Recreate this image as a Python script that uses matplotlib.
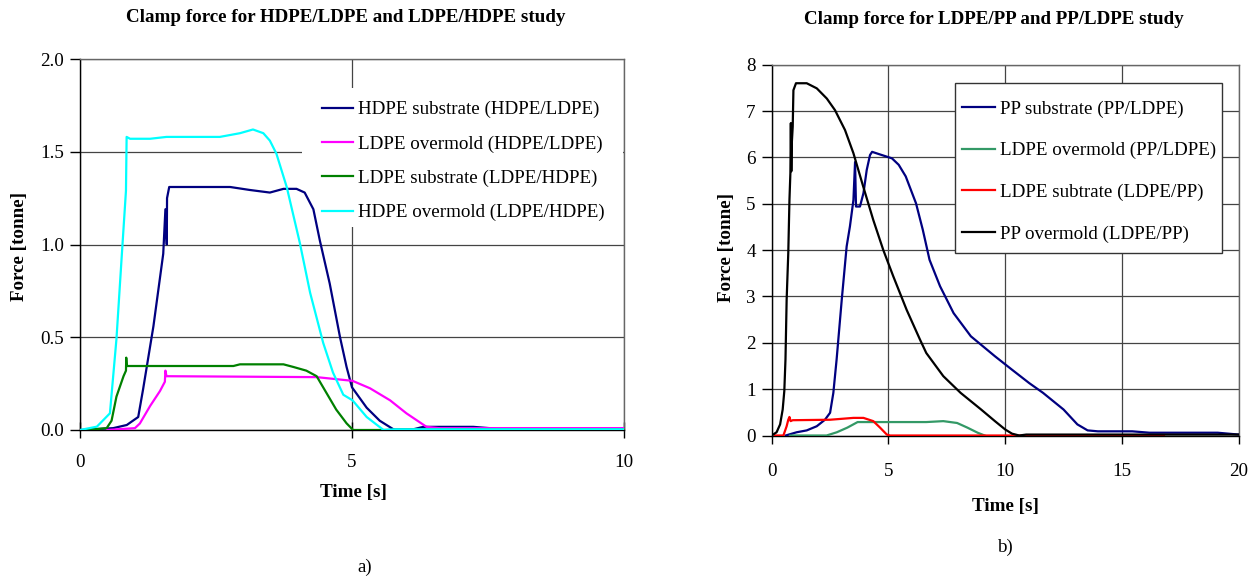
import matplotlib
matplotlib.use("Agg")
import matplotlib.pyplot as plt
from matplotlib.patches import Rectangle
from matplotlib.ticker import FormatStrFormatter

plt.rcParams['font.family'] = ['Liberation Serif', 'DejaVu Serif']

# ---- data: a) HDPE/LDPE and LDPE/HDPE ----
hdpe_sub_t = [0, 0.61, 0.86, 1.07, 1.16, 1.35, 1.53, 1.57, 1.595, 1.60, 1.64, 2.76, 3.12, 3.49,
              3.74, 3.98, 4.13, 4.29, 4.41, 4.59, 4.78, 4.9, 5.0, 5.27, 5.51, 5.76, 6.13, 6.31,
              7.23, 7.66, 10]
hdpe_sub_f = [0, 0.01, 0.027, 0.07, 0.22, 0.56, 0.95, 1.19, 1.0, 1.25, 1.31, 1.31, 1.294, 1.28,
              1.30, 1.30, 1.28, 1.19, 1.02, 0.79, 0.50, 0.34, 0.23, 0.12, 0.05, 0.004, 0.004, 0.017,
              0.017, 0.007, 0.007]

ldpe_over_t = [0.5, 1.01, 1.1, 1.29, 1.47, 1.56, 1.57, 1.59, 4.35, 5.01, 5.33, 5.7, 6.0, 6.37, 6.6, 10]
ldpe_over_f = [0, 0.01, 0.035, 0.13, 0.21, 0.26, 0.32, 0.29, 0.285, 0.265, 0.225, 0.16, 0.09, 0.017,
               0.01, 0.01]

ldpe_sub_t = [0.12, 0.49, 0.58, 0.67, 0.80, 0.845, 0.85, 0.86, 2.82, 2.94, 3.74, 3.92, 4.16, 4.35,
              4.53, 4.71, 4.9, 5.02, 5.6, 6.2, 10]
ldpe_sub_f = [0, 0.01, 0.05, 0.18, 0.29, 0.32, 0.39, 0.345, 0.345, 0.354, 0.354, 0.34, 0.32, 0.29,
              0.20, 0.11, 0.036, 0, 0, 0.004, 0.004]

hdpe_over_t = [0, 0.31, 0.55, 0.67, 0.77, 0.845, 0.857, 0.92, 1.29, 1.59, 2.57, 2.94, 3.18, 3.37,
               3.49, 3.61, 3.80, 4.04, 4.23, 4.47, 4.65, 4.84, 5.01, 5.27, 5.58, 5.8, 10]
hdpe_over_f = [0, 0.018, 0.09, 0.49, 0.95, 1.29, 1.58, 1.57, 1.57, 1.58, 1.58, 1.60, 1.62, 1.60,
               1.56, 1.49, 1.31, 1.01, 0.74, 0.47, 0.31, 0.19, 0.16, 0.07, 0, 0.004, 0.004]

# ---- b) LDPE/PP and PP/LDPE ----
pp_sub_t = [0.6, 1.07, 1.5, 1.93, 2.28, 2.5, 2.64, 2.78, 3.0, 3.21, 3.35, 3.5, 3.57, 3.61, 3.78,
            3.93, 4.07, 4.21, 4.3, 4.6, 5.15, 5.44, 5.74, 6.18, 6.47, 6.76, 7.21, 7.79, 8.53, 9.56,
            10.29, 11.03, 11.62, 12.5, 13.09, 13.53, 13.97, 15.44, 16.18, 19.1, 20]
pp_sub_f = [0, 0.07, 0.11, 0.2, 0.34, 0.49, 0.92, 1.64, 2.93, 4.08, 4.51, 5.08, 5.9, 4.94, 4.94,
            5.23, 5.73, 6.05, 6.12, 6.07, 5.98, 5.84, 5.59, 5.01, 4.44, 3.79, 3.22, 2.64, 2.14, 1.71,
            1.42, 1.13, 0.92, 0.56, 0.24, 0.11, 0.09, 0.09, 0.06, 0.06, 0.02]

ldpe_over2_t = [0.8, 2.35, 2.79, 3.24, 3.68, 4.12, 6.62, 7.35, 7.94, 8.38, 8.82, 9.12]
ldpe_over2_f = [0, 0, 0.07, 0.17, 0.29, 0.29, 0.29, 0.31, 0.27, 0.17, 0.06, 0]

ldpe_sub2_t = [0.14, 0.5, 0.64, 0.71, 0.76, 0.81, 0.9, 2.5, 3.5, 3.93, 4.35, 4.64, 4.93, 5.07, 16.8]
ldpe_sub2_f = [0, 0, 0.2, 0.34, 0.4, 0.31, 0.33, 0.34, 0.38, 0.38, 0.31, 0.17, 0.02, 0, 0]

pp_over_t = [0, 0.21, 0.36, 0.47, 0.54, 0.59, 0.64, 0.71, 0.76, 0.80, 0.82, 0.84, 0.86, 0.9, 0.93,
             1.04, 1.5, 1.93, 2.36, 2.71, 3.14, 3.5, 3.92, 4.35, 4.78, 5.21, 5.78, 6.35, 6.62, 7.35,
             8.09, 8.97, 9.56, 10.0, 10.29, 10.6, 10.9, 20]
pp_over_f = [0, 0.07, 0.24, 0.56, 0.96, 1.64, 2.93, 3.94, 5.08, 5.66, 6.74, 5.7, 6.3, 6.66, 7.45,
             7.6, 7.6, 7.49, 7.27, 7.02, 6.59, 6.09, 5.37, 4.65, 4.0, 3.43, 2.71, 2.07, 1.78, 1.28,
             0.92, 0.56, 0.31, 0.13, 0.04, 0, 0.02, 0.02]

W, H = 1259, 580
FS = 13.7
LW = 1.6

fig = plt.figure(figsize=(W / 100, H / 100), dpi=100)


def fx(px):
    return px / W


def fy(py):
    return 1 - py / H


def style_axes(ax, xticks, yticks, xmax, ymax, fmt):
    ax.set_xlim(0, xmax)
    ax.set_ylim(0, ymax)
    ax.set_xticks(xticks)
    ax.set_yticks(yticks)
    ax.yaxis.set_major_formatter(FormatStrFormatter(fmt))
    ax.grid(True, color='#444444', lw=0.9)
    ax.set_axisbelow(True)
    ax.tick_params(axis='y', direction='out', length=7, width=1, pad=4.5, labelsize=FS)
    ax.tick_params(axis='x', direction='inout', length=12, width=1, pad=11, labelsize=FS)
    for s in ['left', 'bottom']:
        ax.spines[s].set_color('black')
        ax.spines[s].set_linewidth(1)
    for s in ['top', 'right']:
        ax.spines[s].set_color('#666666')
        ax.spines[s].set_linewidth(1)


def legend_box(ax, x0, y0, x1, y1, edge):
    # white block behind the legend, hides the grid like the spreadsheet chart
    r = Rectangle((fx(x0), fy(y1)), fx(x1) - fx(x0), (y1 - y0) / H, transform=fig.transFigure,
                  facecolor='white', edgecolor=edge, lw=1, zorder=1, clip_on=False)
    ax.add_patch(r)


# left chart
ax1 = fig.add_axes([fx(80), fy(430), (624 - 80) / W, (430 - 59) / H])
ax1.plot(hdpe_sub_t, hdpe_sub_f, color='#000080', lw=LW, zorder=3, label='HDPE substrate (HDPE/LDPE)')
ax1.plot(ldpe_over_t, ldpe_over_f, color='#FF00FF', lw=LW, zorder=3, label='LDPE overmold (HDPE/LDPE)')
ax1.plot(ldpe_sub_t, ldpe_sub_f, color='#008000', lw=LW, zorder=3, label='LDPE substrate (LDPE/HDPE)')
ax1.plot(hdpe_over_t, hdpe_over_f, color='#00FFFF', lw=LW, zorder=3, label='HDPE overmold (LDPE/HDPE)')
style_axes(ax1, [0, 5, 10], [0, 0.5, 1.0, 1.5, 2.0], 10, 2.0, '%.1f')
legend_box(ax1, 302, 88, 623, 227, 'none')
ax1.legend(loc='upper left', bbox_to_anchor=(fx(321.7), fy(101)), bbox_transform=fig.transFigure,
           fontsize=FS, frameon=False, borderaxespad=0, borderpad=0,
           labelspacing=0.89, handlelength=1.66, handletextpad=0.27)

# right chart
ax2 = fig.add_axes([fx(771.7), fy(435.5), (1238.7 - 771.7) / W, (435.5 - 64.7) / H])
ax2.plot(pp_sub_t, pp_sub_f, color='#000080', lw=LW, zorder=3, label='PP substrate (PP/LDPE)')
ax2.plot(ldpe_over2_t, ldpe_over2_f, color='#339966', lw=LW, zorder=3, label='LDPE overmold (PP/LDPE)')
ax2.plot(ldpe_sub2_t, ldpe_sub2_f, color='#FF0000', lw=LW, zorder=3, label='LDPE subtrate (LDPE/PP)')
ax2.plot(pp_over_t, pp_over_f, color='black', lw=LW, zorder=3, label='PP overmold (LDPE/PP)')
style_axes(ax2, [0, 5, 10, 15, 20], list(range(9)), 20, 8, '%d')
ax2.tick_params(axis='x', direction='out', length=6, pad=14)
legend_box(ax2, 955.4, 83.3, 1221.7, 252.7, '#333333')
ax2.legend(loc='upper left', bbox_to_anchor=(fx(962), fy(100.2)), bbox_transform=fig.transFigure,
           fontsize=FS, frameon=False, borderaxespad=0, borderpad=0,
           labelspacing=1.28, handlelength=1.71, handletextpad=0.27)

# titles and labels
fig.text(fx(346), fy(17), 'Clamp force for HDPE/LDPE and LDPE/HDPE study', ha='center', va='center',
         fontsize=FS, fontweight='bold')
fig.text(fx(994), fy(20), 'Clamp force for LDPE/PP and PP/LDPE study', ha='center', va='center',
         fontsize=FS, fontweight='bold')
fig.text(fx(19.5), fy(246), 'Force [tonne]', rotation=90, ha='center', va='center',
         fontsize=FS, fontweight='bold')
fig.text(fx(726), fy(248), 'Force [tonne]', rotation=90, ha='center', va='center',
         fontsize=FS, fontweight='bold')
fig.text(fx(353), fy(492), 'Time [s]', ha='center', va='center', fontsize=FS, fontweight='bold')
fig.text(fx(1005), fy(506), 'Time [s]', ha='center', va='center', fontsize=FS, fontweight='bold')
fig.text(fx(365), fy(567), 'a)', ha='center', va='center', fontsize=FS)
fig.text(fx(1005), fy(547), 'b)', ha='center', va='center', fontsize=FS)

fig.savefig('out.png', dpi=100)
